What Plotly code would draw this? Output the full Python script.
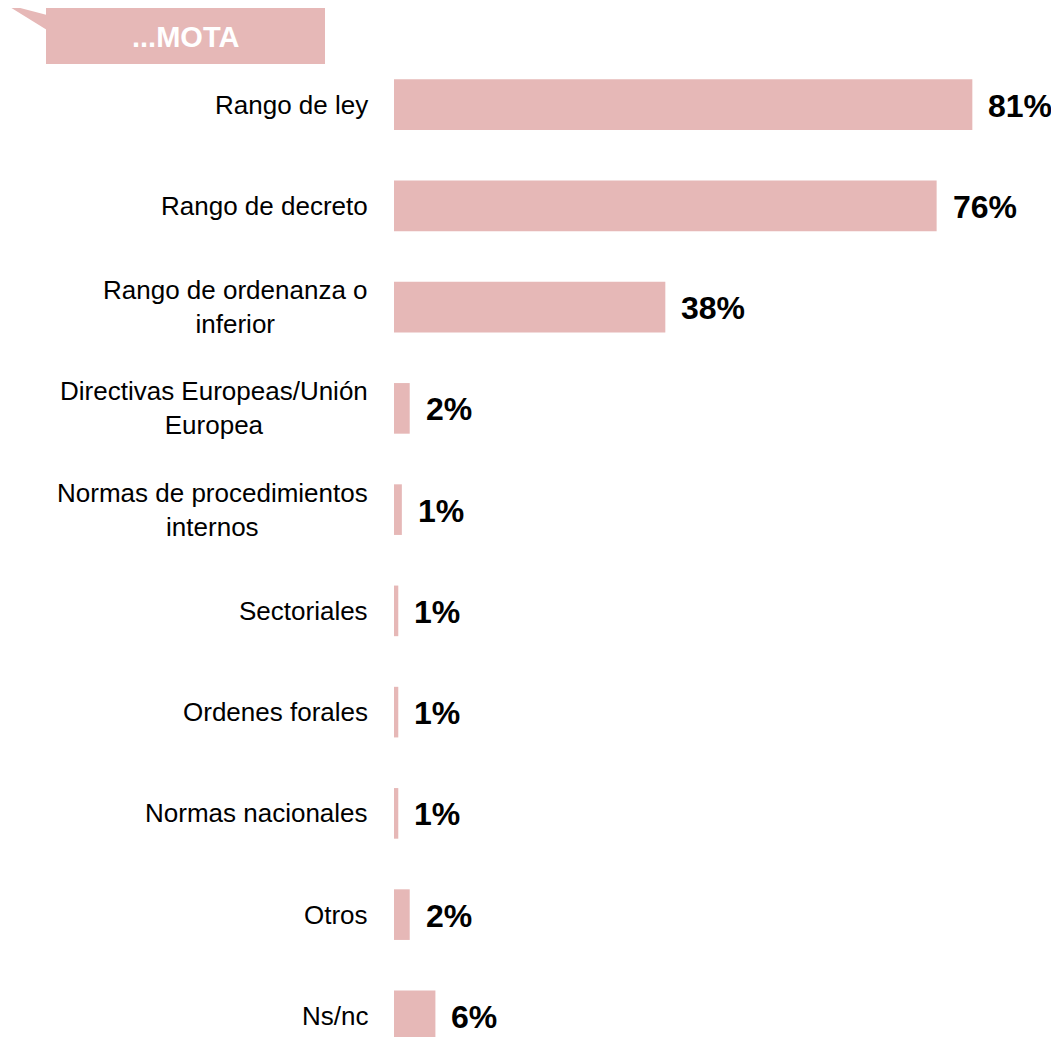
import plotly.graph_objects as go

categories = [
    "Rango de ley",
    "Rango de decreto",
    "Rango de ordenanza o<br>inferior",
    "Directivas Europeas/Unión<br>Europea",
    "Normas de procedimientos<br>internos",
    "Sectoriales",
    "Ordenes forales",
    "Normas nacionales",
    "Otros",
    "Ns/nc",
]
values = [81, 76, 38, 2.2, 1.1, 0.6, 0.6, 0.6, 2.2, 5.8]
value_labels = ["81%", "76%", "38%", "2%", "1%", "1%", "1%", "1%", "2%", "6%"]
header_text = "...MOTA"

OFF = 8  # page body margin
W, H = 1059 - OFF, 1037 - OFF
L, R, T, B = 394 - OFF, 0, 54 - OFF, 0
PW, PH = W - L - R, H - T - B
PINK = "#E6B8B7"
FONT = "Liberation Sans, Arial, sans-serif"

def px(x):
    return (x - OFF - L) / PW

def py(y):
    return 1 - (y - OFF - T) / PH

idx = list(range(len(categories)))

fig = go.Figure(go.Bar(
    x=values, y=idx, orientation="h",
    marker=dict(color=PINK, line=dict(width=0)),
    width=0.5, hoverinfo="skip",
))

ann = []
for i, (c, v, t) in enumerate(zip(categories, values, value_labels)):
    ann.append(dict(x=0, y=i, xref="x", yref="y", text=c, showarrow=False,
                    xanchor="right", yanchor="middle", align="center", xshift=-24,
                    font=dict(family=FONT, size=26, color="#000000")))
    ann.append(dict(x=v, y=i, xref="x", yref="y", text="<b>%s</b>" % t, showarrow=False,
                    xanchor="left", yanchor="middle", xshift=14, yshift=-1,
                    font=dict(family=FONT, size=32, color="#000000")))

# header tag
ann.append(dict(x=px(185), y=py(37), xref="paper", yref="paper", text="<b>%s</b>" % header_text,
                showarrow=False, xanchor="center", yanchor="middle",
                font=dict(family=FONT, size=29, color="#FFFFFF")))

shapes = [
    dict(type="rect", xref="paper", yref="paper", x0=px(46), x1=px(325), y0=py(6), y1=py(64),
         fillcolor=PINK, line=dict(width=0), layer="above"),
    dict(type="path", xref="paper", yref="paper",
         path="M %f %f L %f %f L %f %f Z" % (px(5), py(4), px(47), py(15), px(47), py(30)),
         fillcolor=PINK, line=dict(width=0), layer="above"),
]

fig.update_layout(
    width=W, height=H,
    margin=dict(l=L, r=R, t=T, b=B, pad=0),
    plot_bgcolor="white", paper_bgcolor="white",
    showlegend=False,
    xaxis=dict(range=[0, PW / 7.14], visible=False, fixedrange=True),
    yaxis=dict(range=[-0.5 + PH / 101.25, -0.5], visible=False, fixedrange=True),
    annotations=ann, shapes=shapes,
)

fig.write_html("out.html")
